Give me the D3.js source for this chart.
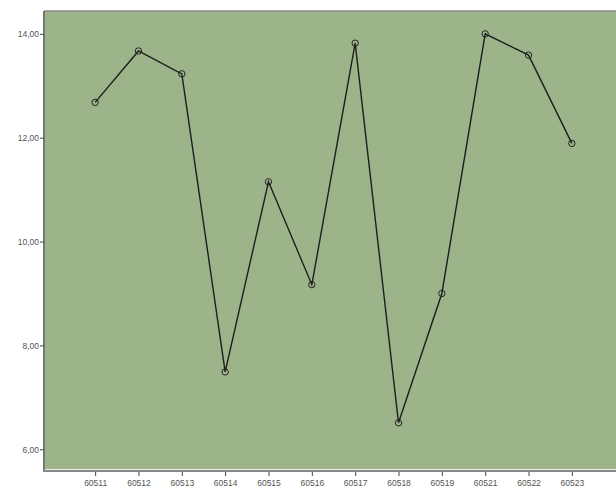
<!DOCTYPE html>
<html><head><meta charset="utf-8">
<script src="https://cdn.jsdelivr.net/npm/d3@7"></script>
<style>body{margin:0;background:#fff}svg{display:block}</style>
</head><body>
<svg id="c" width="616" height="492"></svg>
<script>
const categories = ["60511","60512","60513","60514","60515","60516","60517","60518","60519","60521","60522","60523"];
const values = [12.68, 13.67, 13.23, 7.49, 11.15, 9.17, 13.82, 6.51, 9.0, 14.0, 13.59, 11.89];
const yTicks = [6, 8, 10, 12, 14];

const svg = d3.select("#c");
const L = 44, T = 11, R = 623, B = 469;
const x = d3.scalePoint().domain(categories).range([L, R]).padding(1.18);
const y = d3.scaleLinear().domain([5.62, 14.44]).range([B, T]);

svg.append("rect").attr("x", L).attr("y", T).attr("width", R - L).attr("height", B - T).attr("fill", "#9db48a");
svg.append("line").attr("x1", L).attr("x2", 616).attr("y1", T).attr("y2", T).attr("stroke", "#8a8a8a").attr("stroke-width", 1.5);
svg.append("line").attr("x1", L).attr("x2", 616).attr("y1", B + 0.5).attr("y2", B + 0.5).attr("stroke", "#eef0ea").attr("stroke-width", 1);

const fmt = d => d.toFixed(2).replace(".", ",");
const ya = svg.append("g").attr("transform", `translate(${L},0)`)
  .call(d3.axisLeft(y).tickValues(yTicks).tickFormat(fmt).tickSize(4).tickPadding(1));
ya.select(".domain").attr("stroke", "#777").attr("stroke-width", 2).attr("d", `M0,${T}V${B + 3}`);
ya.selectAll(".tick line").attr("stroke", "#444");
ya.selectAll("text").attr("font-family", "Arial, Liberation Sans, sans-serif").attr("font-size", 8.5).attr("fill", "#555");

const xa = svg.append("g").attr("transform", `translate(0,${B})`)
  .call(d3.axisBottom(x).tickSize(4).tickPadding(7));
xa.select(".domain").attr("stroke", "#888").attr("stroke-width", 2).attr("d", `M${L - 1},2H616`);
xa.selectAll(".tick line").attr("stroke", "#444").attr("transform", "translate(0,3)");
xa.selectAll("text").attr("font-family", "Arial, Liberation Sans, sans-serif").attr("font-size", 8.5).attr("fill", "#555");

const line = d3.line().x((d, i) => x(categories[i])).y(d => y(d));
svg.append("path").datum(values).attr("d", line).attr("fill", "none").attr("stroke", "#1e1e1e").attr("stroke-width", 1.4);
svg.selectAll("circle.pt").data(values).enter().append("circle")
  .attr("cx", (d, i) => x(categories[i])).attr("cy", d => y(d)).attr("r", 3.2)
  .attr("fill", "none").attr("stroke", "#222").attr("stroke-width", 1);
</script>
</body></html>
